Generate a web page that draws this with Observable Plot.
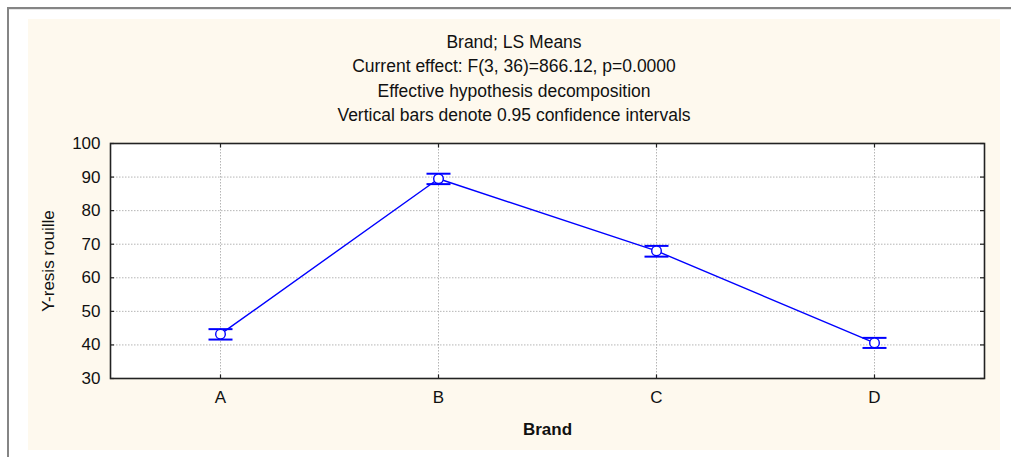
<!DOCTYPE html>
<html>
<head>
<meta charset="utf-8">
<script src="https://cdn.jsdelivr.net/npm/d3@7"></script>
<script src="https://cdn.jsdelivr.net/npm/@observablehq/plot@0.6"></script>
<style>
  html, body { margin: 0; padding: 0; background: #ffffff; }
  #wrap { position: relative; width: 1011px; height: 457px; overflow: hidden; font-family: "Liberation Sans", Arial, sans-serif; }
  #borderLeft { position: absolute; left: 7px; top: 7px; width: 2px; height: 450px; background: #858585; }
  #borderTop { position: absolute; left: 7px; top: 7px; width: 1004px; height: 2px; background: #858585; }
  #borderTop2 { position: absolute; left: 9px; top: 9px; width: 1002px; height: 1px; background: #e6e6e6; }
  #panel { position: absolute; left: 28px; top: 19px; width: 972px; height: 431px; background: #fef9ee; }
  #title { position: absolute; left: 28px; top: 30px; width: 972px; text-align: center; font-size: 17.5px; line-height: 24.3px; color: #111; }
  #chart { position: absolute; left: 0; top: 0; }
  #chart svg { background: transparent !important; }
</style>
</head>
<body>
<div id="wrap">
  <div id="borderLeft"></div>
  <div id="borderTop"></div>
  <div id="borderTop2"></div>
  <div id="panel"></div>
  <div id="title"></div>
  <div id="chart"></div>
</div>
<script>
const titleLines = [
  "Brand; LS Means",
  "Current effect: F(3, 36)=866.12, p=0.0000",
  "Effective hypothesis decomposition",
  "Vertical bars denote 0.95 confidence intervals"
];
const brands = ["A", "B", "C", "D"];
const means = [43.2, 89.5, 68.0, 40.6];
const lower = [41.6, 87.9, 66.3, 39.1];
const upper = [44.7, 91.0, 69.5, 42.1];
const yTicks = [30, 40, 50, 60, 70, 80, 90, 100];
const xLabel = "Brand";
const yLabel = "Y-resis rouille";

document.getElementById("title").innerHTML = titleLines.map(t => `<div>${t}</div>`).join("");

const rows = brands.map((b, i) => ({brand: b, mean: means[i], lo: lower[i], hi: upper[i]}));

const W = 1011, H = 457;
const mL = 110, mR = 27, mT = 143, mB = 79;
const pw = W - mL - mR, ph = H - mT - mB;
const blue = "#0000ff";
const fs = 17;

const capSymbol = {draw(ctx) { ctx.moveTo(-12, 0); ctx.lineTo(12, 0); }};
const tickUp = {draw(ctx) { ctx.moveTo(0, 0); ctx.lineTo(0, -4); }};
const tickDown = {draw(ctx) { ctx.moveTo(0, 0); ctx.lineTo(0, 4); }};

const chart = Plot.plot({
  width: W,
  height: H,
  marginLeft: mL,
  marginRight: mR,
  marginTop: mT,
  marginBottom: mB,
  style: {background: "transparent", fontFamily: "Liberation Sans, Arial, sans-serif", fontSize: fs + "px", color: "#111"},
  x: {type: "point", domain: brands, padding: 0.5, label: null},
  y: {domain: [30, 100], ticks: yTicks, label: null},
  marks: [
    Plot.frame({fill: "white", stroke: null}),
    Plot.gridY(yTicks.filter(d => d > 30 && d < 100), {stroke: "#b5b5b5", strokeOpacity: 1, strokeDasharray: "1.5,1.5"}),
    Plot.gridX(brands, {stroke: "#b5b5b5", strokeOpacity: 1, strokeDasharray: "1.5,1.5"}),
    Plot.axisY(yTicks, {anchor: "left", tickSize: 0, tickPadding: 10, fontSize: fs, fill: "#111"}),
    Plot.axisX(brands, {anchor: "bottom", tickSize: 0, tickPadding: 12, fontSize: fs, fill: "#111"}),
    // inward ticks
    Plot.tickY(yTicks, {y: d => d, insetRight: pw - 4, stroke: "#222", strokeWidth: 1.2}),
    Plot.tickY(yTicks, {y: d => d, insetLeft: pw - 4, stroke: "#222", strokeWidth: 1.2}),
    Plot.dot(brands, {x: d => d, y: () => 30, symbol: tickUp, stroke: "#222", strokeWidth: 1.2, fill: "none"}),
    Plot.dot(brands, {x: d => d, y: () => 100, symbol: tickDown, stroke: "#222", strokeWidth: 1.2, fill: "none"}),
    Plot.frame({stroke: "#222", strokeWidth: 1.6}),
    // data
    Plot.ruleX(rows, {x: "brand", y1: "lo", y2: "hi", stroke: blue, strokeWidth: 1.5}),
    Plot.dot(rows, {x: "brand", y: "lo", symbol: capSymbol, stroke: blue, strokeWidth: 2, fill: "none"}),
    Plot.dot(rows, {x: "brand", y: "hi", symbol: capSymbol, stroke: blue, strokeWidth: 2, fill: "none"}),
    Plot.line(rows, {x: "brand", y: "mean", stroke: blue, strokeWidth: 1.4}),
    Plot.dot(rows, {x: "brand", y: "mean", r: 4.8, stroke: blue, strokeWidth: 1.4, fill: "white"}),
    // axis labels
    Plot.text([xLabel], {frameAnchor: "bottom", dy: 51, textAnchor: "middle", lineAnchor: "middle", fontWeight: "bold", fontSize: fs, fill: "#111"}),
    Plot.text([yLabel], {frameAnchor: "left", dx: -62, rotate: -90, textAnchor: "middle", lineAnchor: "middle", fontSize: fs, fill: "#111"})
  ]
});
document.getElementById("chart").appendChild(chart);
</script>
</body>
</html>
